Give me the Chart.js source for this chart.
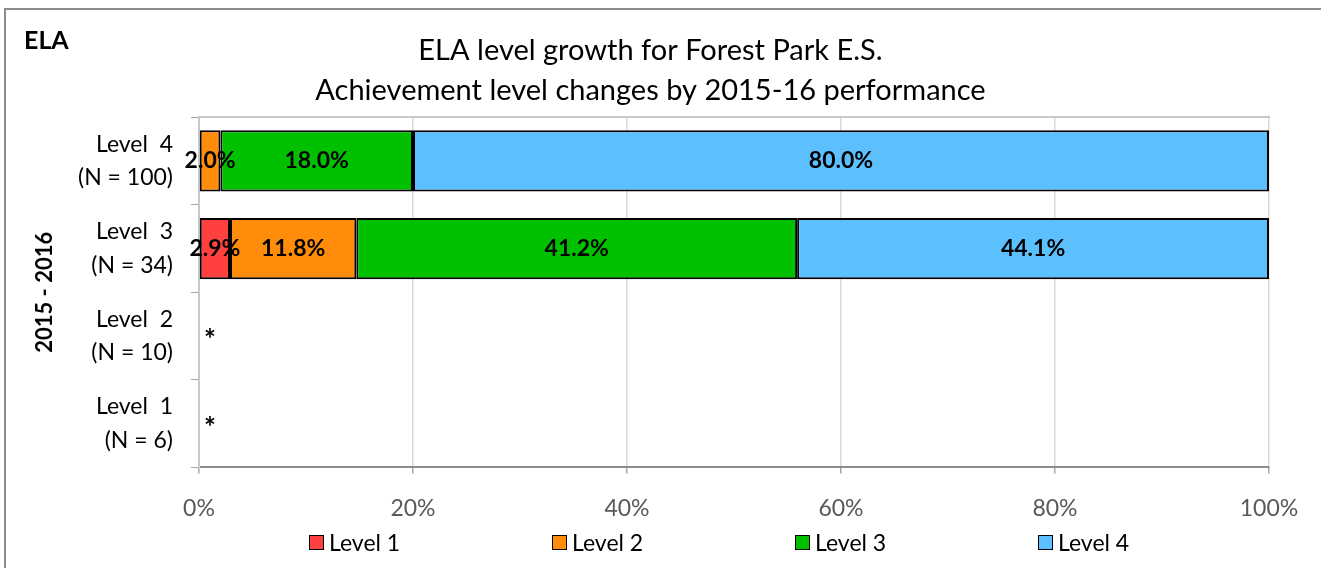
<!DOCTYPE html>
<html>
<head>
<meta charset="utf-8">
<title>ELA level growth</title>
<script src="https://cdn.jsdelivr.net/npm/chart.js@4.4.1/dist/chart.umd.min.js"></script>
<style>
    html, body { margin: 0; padding: 0; background: #fff; }
    body { width: 1321px; height: 568px; position: relative; overflow: hidden; font-family: Lato, sans-serif; }
    #frame { position: absolute; left: 4px; top: 8px; width: 1340px; height: 600px; border: 2px solid #8c8c8c; box-sizing: border-box; }
    #wrap { position: absolute; left: 0; top: 0; width: 1321px; height: 568px; }
    #ela { position: absolute; left: 24px; top: 24px; font-weight: bold; font-size: 25px; line-height: 30px; color: #000; }
    #legend { position: absolute; left: 309px; top: 527px; display: flex; font-size: 23px; line-height: 30px; color: #000; }
    .item { display: flex; align-items: center; width: 243px; }
    .box { width: 13px; height: 13px; border: 1.5px solid #000; margin-right: 5px; }
</style>
</head>
<body>
<div id="frame"></div>
<div id="wrap"><canvas id="chart"></canvas></div>
<div id="ela">ELA</div>
<div id="legend"></div>

<script>
// categories, top to bottom
const categories = [
    ['Level  4', '(N = 100)'],
    ['Level  3', '(N = 34)'],
    ['Level  2', '(N = 10)'],
    ['Level  1', '(N = 6)']
];
const seriesNames = ['Level 1', 'Level 2', 'Level 3', 'Level 4'];

// percent of students reaching each level (null = suppressed)
const level1 = [0, 2.9, null, null];
const level2 = [2.0, 11.8, null, null];
const level3 = [18.0, 41.2, null, null];
const level4 = [80.0, 44.1, null, null];
const suppressed = [false, false, true, true];

const xTicks = [0, 20, 40, 60, 80, 100];
const colors = ['#FF4040', '#FF8C0A', '#00C000', '#5CC0FF'];

const FONT = 'Lato, sans-serif';

// labels on the bars, and the * for groups too small to report
const valueLabels = {
    id: 'valueLabels',
    afterDatasetsDraw(chart) {
        const ctx = chart.ctx;
        ctx.save();
        ctx.font = 'bold 23px ' + FONT;
        ctx.fillStyle = '#000';
        ctx.textBaseline = 'middle';
        ctx.textAlign = 'center';
        chart.data.datasets.forEach((ds, di) => {
            chart.getDatasetMeta(di).data.forEach((bar, i) => {
                const v = ds.data[i];
                if (!v) return;
                ctx.fillText(v.toFixed(1) + '%', (bar.x + bar.base) / 2, bar.y);
            });
        });
        const xs = chart.scales.x, ys = chart.scales.y;
        ctx.font = 'bold 28px ' + FONT;
        ctx.textAlign = 'left';
        suppressed.forEach((s, i) => {
            if (s) ctx.fillText('*', xs.getPixelForValue(0) + 5, ys.getPixelForValue(i) + 4);
        });
        ctx.restore();
    }
};

const seriesData = [level1, level2, level3, level4];

function noPad(scale) {
    scale.paddingTop = 0; scale.paddingBottom = 0;
    scale.paddingLeft = 0; scale.paddingRight = 0;
}

const chart = new Chart(document.getElementById('chart'), {
    type: 'bar',
    data: {
        labels: categories,
        datasets: seriesNames.map((name, i) => ({
            label: name,
            data: seriesData[i],
            backgroundColor: colors[i],
            borderColor: '#000',
            borderWidth: 2,
            borderSkipped: false,
            barPercentage: 0.7,
            categoryPercentage: 1.0
        }))
    },
    options: {
        indexAxis: 'y',
        responsive: true,
        maintainAspectRatio: false,
        animation: false,
        layout: { padding: { left: 32, right: 52, bottom: 25, top: 0 } },
        plugins: {
            legend: { display: false },
            tooltip: { enabled: false },
            title: {
                display: true,
                text: ['ELA level growth for Forest Park E.S.', 'Achievement level changes by 2015-16 performance'],
                color: '#000',
                font: { family: FONT, size: 29, weight: 'normal', lineHeight: 1.4 },
                padding: { top: 30, bottom: 6 }
            }
        },
        scales: {
            x: {
                type: 'linear',
                stacked: true,
                min: 0,
                max: 100,
                afterBuildTicks: (scale) => { scale.ticks = xTicks.map(v => ({ value: v })); },
                afterFit: noPad,
                ticks: {
                    callback: (v) => v + '%',
                    color: '#595959',
                    font: { family: FONT, size: 23 },
                    padding: 21
                },
                grid: { color: '#d9d9d9', tickColor: '#a6a6a6', tickLength: 6, lineWidth: 1.5 },
                border: { color: '#8c8c8c', width: 2 }
            },
            xTop: {
                type: 'linear',
                position: 'top',
                min: 0,
                max: 100,
                afterFit: noPad,
                ticks: { display: false },
                grid: { drawOnChartArea: false, drawTicks: false },
                border: { color: '#c8c8c8', width: 2 }
            },
            y: {
                type: 'category',
                stacked: true,
                afterFit: (scale) => { noPad(scale); scale.width = 167; },
                ticks: {
                    color: '#000',
                    font: { family: FONT, size: 23, lineHeight: 1.45 },
                    padding: 18
                },
                grid: { offset: true, drawOnChartArea: false, tickLength: 8, color: '#a6a6a6' },
                border: { color: '#c8c8c8', width: 2 },
                title: {
                    display: true,
                    text: '2015 - 2016',
                    color: '#000',
                    font: { family: FONT, size: 22, weight: 'bold' },
                    padding: 0
                }
            }
        }
    },
    plugins: [valueLabels]
});

// legend
const legendEl = document.getElementById('legend');
seriesNames.forEach((name, i) => {
    const item = document.createElement('div');
    item.className = 'item';
    const box = document.createElement('span');
    box.className = 'box';
    box.style.background = colors[i];
    const txt = document.createElement('span');
    txt.textContent = name;
    item.appendChild(box);
    item.appendChild(txt);
    legendEl.appendChild(item);
});
</script>
</body>
</html>
